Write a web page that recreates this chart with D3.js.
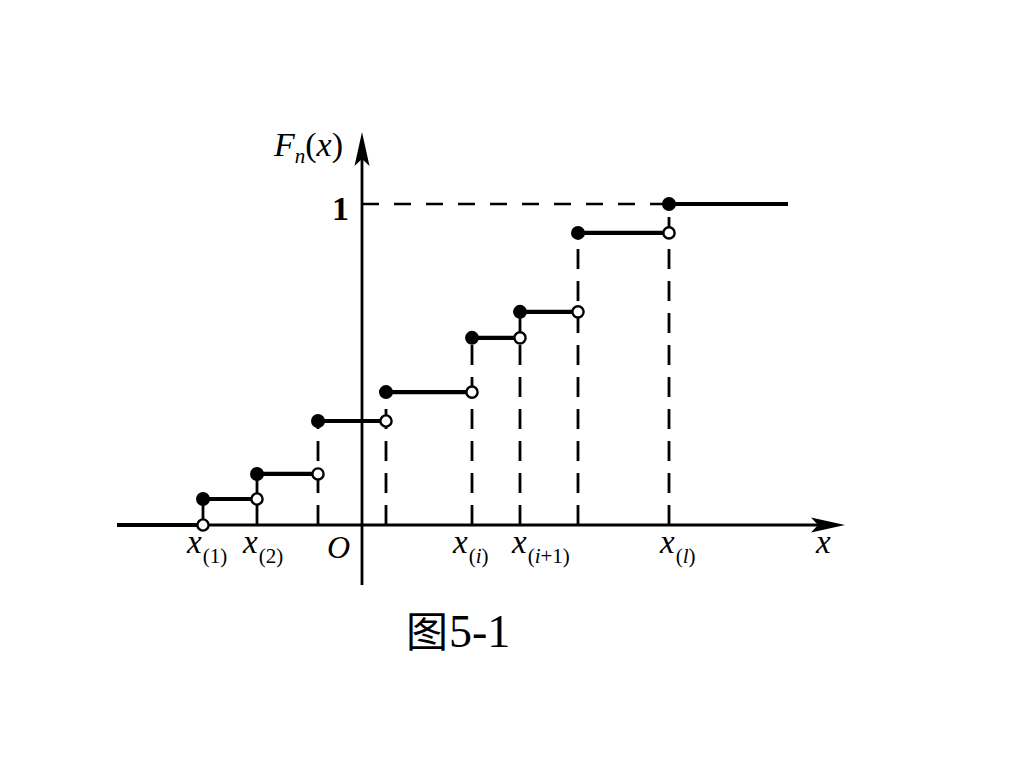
<!DOCTYPE html>
<html><head><meta charset="utf-8">
<script src="https://cdn.jsdelivr.net/npm/d3@7"></script>
<style>body{margin:0;background:#fff}</style>
</head><body><svg id="c" width="1024" height="768"></svg>
<script>
// jump points x_(k) (arbitrary units, origin O = 0)
const jumpX = [-3.18, -2.10, -0.88, 0.48, 2.20, 3.16, 4.32, 6.14];
// step levels F_n before first jump, after each jump
const levels = [0, 0.081, 0.159, 0.324, 0.414, 0.583, 0.664, 0.910, 1];
// which jump verticals are drawn solid (others dashed)
const solidJumps = [true, true, false, false, false, false, false, false];
// labelled jump points: index into jumpX, subscript parts [text, italic]
const xLabelIdx = [0, 1, 4, 5, 7];
const xLabelSubs = [
  [["(", false], ["1", false], [")", false]],
  [["(", false], ["2", false], [")", false]],
  [["(", false], ["i", true], [")", false]],
  [["(", false], ["i", true], ["+1)", false]],
  [["(", false], ["l", true], [")", false]]
];
const xLabelDx = [-16, -14, -19, -8, -9];
const yTickLabel = "1";
const captionHan = "图";
const captionNum = "5-1";
const xDomain = [-4.9, 9.66];
const stepEnds = [-4.9, 8.52];
const yAxisExtent = [-0.187, 1.224];

const svg = d3.select("#c");
svg.append("rect").attr("width", 1024).attr("height", 768).attr("fill", "#fff");
const x = d3.scaleLinear().domain(xDomain).range([117, 845]);
const y = d3.scaleLinear().domain([0, 1]).range([525, 204]);
const serif = "'Liberation Serif','Times New Roman',serif";

// dashed verticals and solid verticals
jumpX.forEach((jx, k) => {
  svg.append("line")
    .attr("x1", x(jx)).attr("x2", x(jx))
    .attr("y1", y(0)).attr("y2", y(levels[k + 1]))
    .attr("stroke", "#000").attr("stroke-width", 2.8)
    .attr("stroke-dasharray", solidJumps[k] ? null : "20,12");
});
// dashed horizontal at 1
svg.append("line")
  .attr("x1", x(0)).attr("x2", x(jumpX[jumpX.length - 1]))
  .attr("y1", y(1)).attr("y2", y(1))
  .attr("stroke", "#000").attr("stroke-width", 2.6)
  .attr("stroke-dasharray", "17,15");

// axes
svg.append("line").attr("x1", x(xDomain[0])).attr("x2", x(xDomain[1]) - 20)
  .attr("y1", y(0)).attr("y2", y(0)).attr("stroke", "#000").attr("stroke-width", 2.8);
svg.append("line").attr("x1", x(0)).attr("x2", x(0))
  .attr("y1", y(yAxisExtent[0])).attr("y2", y(yAxisExtent[1]) + 20)
  .attr("stroke", "#000").attr("stroke-width", 2.8);
// arrowheads
const xt = x(xDomain[1]), yt = y(0);
svg.append("path").attr("d", `M${xt},${yt} L${xt - 34},${yt - 7.5} L${xt - 27},${yt} L${xt - 34},${yt + 7.5} Z`).attr("fill", "#000");
const ax = x(0), ay = y(yAxisExtent[1]);
svg.append("path").attr("d", `M${ax},${ay} L${ax - 7.5},${ay + 34} L${ax},${ay + 27} L${ax + 7.5},${ay + 34} Z`).attr("fill", "#000");

// step segments
const bounds = [stepEnds[0], ...jumpX, stepEnds[1]];
levels.forEach((lv, k) => {
  svg.append("line")
    .attr("x1", x(bounds[k])).attr("x2", x(bounds[k + 1]))
    .attr("y1", y(lv)).attr("y2", y(lv))
    .attr("stroke", "#000").attr("stroke-width", 4.2);
});
// dots
jumpX.forEach((jx, k) => {
  svg.append("circle").attr("cx", x(jx)).attr("cy", y(levels[k]))
    .attr("r", 5.6).attr("fill", "#fff").attr("stroke", "#000").attr("stroke-width", 2.4);
  svg.append("circle").attr("cx", x(jx)).attr("cy", y(levels[k + 1]))
    .attr("r", 7).attr("fill", "#000");
});

// x labels
xLabelIdx.forEach((idx, j) => {
  const t = svg.append("text").attr("x", x(jumpX[idx]) + xLabelDx[j]).attr("y", 553)
    .attr("font-family", serif).attr("font-size", 33);
  t.append("tspan").attr("font-style", "italic").text("x");
  xLabelSubs[j].forEach((p, m) => {
    const s = t.append("tspan").attr("font-size", 21).attr("font-style", p[1] ? "italic" : "normal").text(p[0]);
    if (m === 0) s.attr("dy", 10).attr("dx", 1);
  });
});
// origin label
svg.append("text").attr("x", x(0) - 35).attr("y", 558).attr("font-family", serif)
  .attr("font-size", 32).attr("font-style", "italic").text("O");
// axis name x
svg.append("text").attr("x", 816).attr("y", 553).attr("font-family", serif)
  .attr("font-size", 33).attr("font-style", "italic").text("x");
// y tick label
svg.append("text").attr("x", x(0) - 13).attr("y", y(1) + 16).attr("text-anchor", "end")
  .attr("font-family", serif).attr("font-size", 34).attr("font-weight", "bold").text(yTickLabel);
// y axis name F_n(x)
const yl = svg.append("text").attr("x", 274).attr("y", 156).attr("font-family", serif).attr("font-size", 34);
yl.append("tspan").attr("font-style", "italic").text("F");
yl.append("tspan").attr("font-style", "italic").attr("font-size", 21).attr("dy", 7).text("n");
yl.append("tspan").attr("dy", -7).text("(");
yl.append("tspan").attr("font-style", "italic").text("x");
yl.append("tspan").text(")");
// caption
const cap = svg.append("text").attr("x", 406).attr("y", 647).attr("font-size", 44);
cap.append("tspan").attr("font-family", "'Noto Sans CJK SC',sans-serif").attr("font-size", 42).text(captionHan);
cap.append("tspan").attr("font-family", serif).attr("font-size", 46).attr("dx", 1).text(captionNum);
</script></body></html>
